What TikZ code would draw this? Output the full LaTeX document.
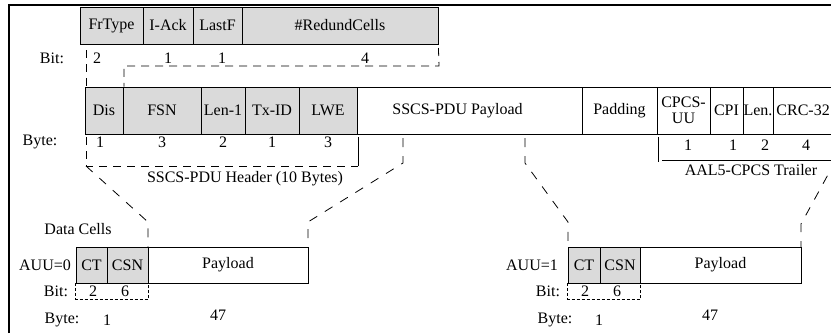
\documentclass[tikz,border=0pt]{standalone}
\usepackage{fontspec}
\setmainfont{Liberation Serif}
\definecolor{cellgray}{RGB}{218,218,218}
\begin{document}
\begin{tikzpicture}[x=1pt,y=-1pt,
  fld/.style={draw, line width=0.9pt, inner sep=0pt, font=\fontsize{16}{15.5}\selectfont, align=center},
  shaded/.style={fld, fill=cellgray},
  lbl/.style={inner sep=0pt, font=\fontsize{16}{16}\selectfont},
  dline/.style={line width=0.8pt, dash pattern=on 8pt off 6pt},
  dline2/.style={line width=0.8pt, dash pattern=on 9pt off 9pt},
  fine/.style={line width=0.8pt, dash pattern=on 3pt off 2pt},
  solidl/.style={line width=0.8pt},
  frameline/.style={line width=2.5pt}]
\useasboundingbox (0,0) rectangle (831,333);
\clip (0,0) rectangle (831,333);

% frame
\draw[frameline] (9,333) -- (9,5) -- (831,5);

% top bit-field box
\node[shaded, minimum width=63, minimum height=37] (frtype) at (111.5,25.5) {FrType};
\node[shaded, minimum width=50, minimum height=37] (iack) at (168,25.5) {I-Ack};
\node[shaded, minimum width=49, minimum height=37] (lastf) at (217.5,25.5) {LastF};
\node[shaded, minimum width=196, minimum height=37] (redund) at (340,25.5) {\#RedundCells};

\node[lbl] (bitlbl) at (52,58) {Bit:};
\node[lbl] (b2) at (97,58) {2};
\node[lbl] (b1a) at (168,58) {1};
\node[lbl] (b1b) at (222,58) {1};
\node[lbl] (b4) at (365,58) {4};

% SSCS-PDU row
\node[shaded, minimum width=38, minimum height=47] (dis) at (104,110.5) {Dis};
\node[shaded, minimum width=78, minimum height=47] (fsn) at (162,110.5) {FSN};
\node[shaded, minimum width=44, minimum height=47] (len1) at (223,110.5) {Len-1};
\node[shaded, minimum width=54, minimum height=47] (txid) at (272,110.5) {Tx-ID};
\node[shaded, minimum width=58, minimum height=47] (lwe) at (328,110.5) {LWE};
\node[fld, minimum width=225, minimum height=47] (payload) at (469.5,110.5) {SSCS-PDU Payload\hspace*{24pt}};
\node[fld, minimum width=75, minimum height=47] (padding) at (619.5,110.5) {Padding};
\node[fld, minimum width=53, minimum height=47] (cpcsuu) at (683.5,110.5) {CPCS-\\UU};
\node[fld, minimum width=33, minimum height=47] (cpi) at (726.5,110.5) {CPI};
\node[fld, minimum width=30, minimum height=47] (len) at (758,110.5) {Len.};
\node[fld, minimum width=80, minimum height=47, anchor=west, text width=74pt, align=left, inner xsep=3pt] (crc) at (773,110.5) {CRC-32};

\node[lbl] (bytelbl) at (40,142) {Byte:};
\node[lbl] (y1) at (100,142) {1};
\node[lbl] (y3a) at (162,142) {3};
\node[lbl] (y2) at (223,142) {2};
\node[lbl] (y1b) at (272,142) {1};
\node[lbl] (y3b) at (328,142) {3};

\node[lbl] (t1) at (688,145) {1};
\node[lbl] (t2) at (733,145) {1};
\node[lbl] (t3) at (765,145) {2};
\node[lbl] (t4) at (806,145) {4};
\node[lbl] (trailer) at (751,170) {AAL5-CPCS Trailer};
\node[lbl] (hdr) at (245,179) {SSCS-PDU Header (10 Bytes)};

% bit bracket to Dis
\draw[dline] (86,50) -- (dis.north west -| 86,0);
\draw[dline] (redund.south east |- 0,48) -- (439,66) -- (124,66) -- (dis.north east -| 124,0);

% header bracket
\coordinate (hl) at (86,166);
\coordinate (hr) at (358,166);
\draw[dline] (86,137) -- (hl) -- (hr);
\draw[solidl] (hr) -- (358,137);
\draw[dline2] (hl) -- (148,222) -- (148,247);

% payload brackets
\draw[dline2] (403,138) -- (403,163) -- (308,222) -- (308,247);
\draw[dline2] (525,138) -- (525,163) -- (568,222) -- (568,247);

% trailer bracket
\draw[solidl] (658,137) -- (658,162);
\draw[solidl] (662,160) -- (831,160);
\draw[dline2] (836,160) -- (801,224) -- (801,247);

% data cells
\node[lbl] (dcells) at (78,229) {Data Cells};

\node[lbl] (auu0) at (45,265) {AUU=0};
\node[shaded, minimum width=31, minimum height=36] (ct1) at (91.5,265) {CT};
\node[shaded, minimum width=41, minimum height=36] (csn1) at (127.5,265) {CSN};
\node[fld, minimum width=160, minimum height=36] (pl1) at (228,265) {Payload};
\node[lbl] (bit1) at (56,291) {Bit:};
\node[lbl] (c1b2) at (93,291) {2};
\node[lbl] (c1b6) at (125,291) {6};
\draw[fine] (ct1.south west) -- ++(0,16) -| (csn1.south east);
\node[lbl] (byte1) at (62,320) {Byte:};
\node[lbl] (c1y1) at (107,320) {1};
\node[lbl] (c1y47) at (218,315) {47};

\node[lbl] (auu1) at (532,265) {AUU=1};
\node[shaded, minimum width=32, minimum height=36] (ct2) at (584,265) {CT};
\node[shaded, minimum width=40, minimum height=36] (csn2) at (620,265) {CSN};
\node[fld, minimum width=161, minimum height=36] (pl2) at (720.5,265) {Payload};
\node[lbl] (bit2) at (548,291) {Bit:};
\node[lbl] (c2b2) at (585,291) {2};
\node[lbl] (c2b6) at (617,291) {6};
\draw[fine] (ct2.south west) -- ++(0,16) -| (csn2.south east);
\node[lbl] (byte2) at (555,320) {Byte:};
\node[lbl] (c2y1) at (599,320) {1};
\node[lbl] (c2y47) at (710,315) {47};
\end{tikzpicture}
\end{document}
